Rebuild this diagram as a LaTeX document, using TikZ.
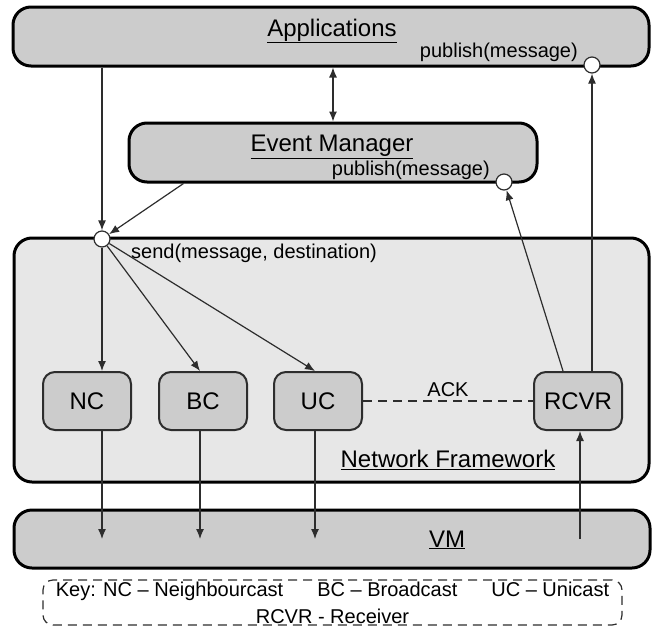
\documentclass[tikz,border=0pt]{standalone}
\usepackage{fontspec}
\setmainfont{Liberation Sans}
\usetikzlibrary{arrows.meta}
\definecolor{boxgray}{RGB}{204,204,204}
\definecolor{framegray}{RGB}{231,231,231}
\definecolor{linegray}{RGB}{45,45,45}
\newcommand{\bigtext}{\fontsize{24}{28}\selectfont}
\newcommand{\smalltext}{\fontsize{20}{27}\selectfont}
\begin{document}
\begin{tikzpicture}[x=1pt,y=-1pt,
		layer/.style={draw=black,line width=3pt,rounded corners=18pt,fill=boxgray,inner sep=0pt},
		unit/.style={draw=linegray,line width=2pt,rounded corners=12pt,fill=boxgray,minimum width=88pt,minimum height=58pt,font=\bigtext},
		port/.style={circle,draw=linegray,line width=1.2pt,fill=white,minimum size=16pt,inner sep=0pt},
		conn/.style={draw=linegray,line width=1.2pt,-{Latex[length=10pt,width=8pt]}}]
			\useasboundingbox (0,0) rectangle (655,629);
			\node[layer,minimum width=636pt,minimum height=59pt] (apps) at (331,36.5) {};
			\node[layer,minimum width=408pt,minimum height=59pt] (em) at (333,152.5) {};
			\node[layer,fill=framegray,minimum width=635pt,minimum height=244pt] (net) at (331.5,360) {};
			\node[layer,minimum width=636pt,minimum height=58pt] (vm) at (332,539) {};
			
			\node[font=\bigtext] (appslbl) at (332,31) {\underline{Applications}};
			\node[font=\bigtext] (emlbl) at (332,147) {\underline{Event Manager}};
			\node[font=\bigtext] (netlbl) at (448,460) {\underline{Network Framework}};
			\node[font=\bigtext] (vmlbl) at (447,540) {\underline{VM}};
			\node[font=\smalltext,anchor=east,inner sep=0pt] (appspubtxt) at (578,52) {publish(message)};
			\node[font=\smalltext,anchor=east,inner sep=0pt] (empubtxt) at (490,170) {publish(message)};
			\node[font=\smalltext,anchor=west,inner sep=0pt] (sendtxt) at (131,253) {send(message, destination)};
			
			\node[unit] (nc) at (87,401) {NC};
			\node[unit] (bc) at (203,401) {BC};
			\node[unit] (uc) at (318,401) {UC};
			\node[unit] (rcvr) at (578,401) {RCVR};
			
			\node[port] (send) at (102,239) {};
			\node[port] (empub) at (504,182) {};
			\node[port] (appspub) at (592,65) {};
			
			\draw[conn] (apps.south -| send) -- (send);
			\draw[conn] ([xshift=56pt]em.south west) -- (send);
			\draw[conn,{Latex[length=10pt,width=8pt]}-{Latex[length=10pt,width=8pt]}] (em.north |- apps.south) -- (em.north);
			\draw[conn] (send) -- (send |- nc.north);
			\draw[conn] (send) -- ([xshift=-3pt]bc.north);
			\draw[conn] (send) -- ([xshift=-3pt]uc.north);
			\draw[conn] (send |- nc.south) -- (send |- vm.center);
			\draw[conn] ([xshift=-3pt]bc.south) -- ([xshift=-3pt]bc.south |- vm.center);
			\draw[conn] ([xshift=-3pt]uc.south) -- ([xshift=-3pt]uc.south |- vm.center);
			\draw[conn] ([xshift=2pt]rcvr.south |- vm.center) -- ([xshift=2pt]rcvr.south);
			\draw[conn] ([xshift=-15pt]rcvr.north) -- (empub);
			\draw[conn] (appspub |- rcvr.north) -- (appspub);
			\draw[draw=linegray,line width=1.5pt,dash pattern=on 9pt off 6pt] (uc.east) -- node[above=4pt,font=\smalltext,inner sep=0pt] (ack) {ACK} (rcvr.west);
			
			\node[draw=linegray,line width=1.2pt,dash pattern=on 9pt off 6pt,rounded corners=10pt,minimum width=579pt,minimum height=45pt,inner sep=0pt,align=center,font=\smalltext] (key) at (332.5,602.5) {Key: NC – Neighbourcast\hspace{34pt}BC – Broadcast\hspace{34pt}UC – Unicast\\RCVR - Receiver};
		\end{tikzpicture}
\end{document}
